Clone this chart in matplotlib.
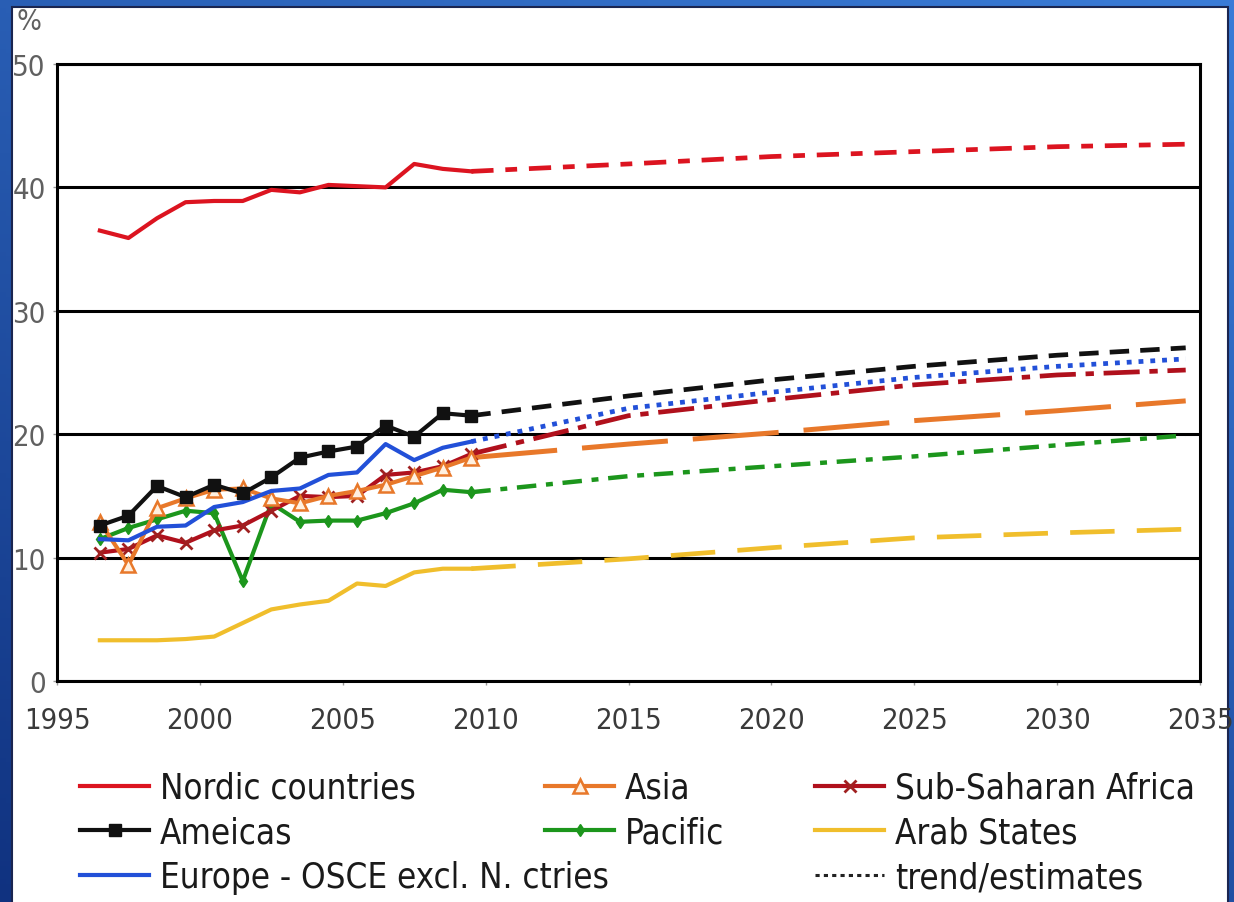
import numpy as np
import matplotlib
matplotlib.use('Agg')
import matplotlib.pyplot as plt
from matplotlib import font_manager
from matplotlib.font_manager import FontProperties
from matplotlib.lines import Line2D
from matplotlib.patches import Rectangle

# historic values, one per year (plotted at mid-year)
years = np.arange(1996, 2010)
nordic = [36.5, 35.9, 37.5, 38.8, 38.9, 38.9, 39.8, 39.6, 40.2, 40.1, 40.0, 41.9, 41.5, 41.3]
americas = [12.6, 13.4, 15.8, 14.9, 15.9, 15.2, 16.5, 18.1, 18.6, 19.0, 20.7, 19.8, 21.7, 21.5]
europe = [11.5, 11.4, 12.5, 12.6, 14.1, 14.5, 15.4, 15.6, 16.7, 16.9, 19.2, 17.9, 18.9, 19.4]
asia = [12.9, 9.4, 14.0, 14.8, 15.5, 15.6, 14.8, 14.4, 15.0, 15.4, 15.9, 16.6, 17.3, 18.1]
ssa = [10.4, 10.7, 11.8, 11.2, 12.2, 12.6, 13.8, 15.0, 14.9, 15.0, 16.7, 16.9, 17.4, 18.4]
pacific = [11.5, 12.4, 13.1, 13.8, 13.6, 8.1, 14.4, 12.9, 13.0, 13.0, 13.6, 14.4, 15.5, 15.3]
arab = [3.3, 3.3, 3.3, 3.4, 3.6, 4.7, 5.8, 6.2, 6.5, 7.9, 7.7, 8.8, 9.1, 9.1]

# trend / estimates
trend_years = [2009.5, 2015, 2020, 2025, 2030, 2034.5]
nordic_tr = [41.3, 41.9, 42.5, 42.9, 43.3, 43.5]
americas_tr = [21.5, 23.1, 24.4, 25.5, 26.4, 27.0]
europe_tr = [19.4, 22.1, 23.4, 24.6, 25.5, 26.1]
ssa_tr = [18.4, 21.5, 22.8, 24.0, 24.8, 25.2]
asia_tr = [18.1, 19.2, 20.1, 21.1, 21.9, 22.7]
pacific_tr = [15.3, 16.6, 17.4, 18.2, 19.1, 19.9]
arab_tr = [9.1, 9.9, 10.8, 11.6, 12.0, 12.3]

labels = ['Nordic countries', 'Ameicas', 'Europe - OSCE excl. N. ctries',
          'Asia', 'Pacific', 'Sub-Saharan Africa', 'Arab States', 'trend/estimates']
xticks = list(range(1995, 2036, 5))
yticks = list(range(0, 51, 10))


def pick_font():
    # prefer a narrow face like the original; fall back to Liberation Sans
    for fam, stretch in [('Liberation Sans Narrow', 'normal'),
                         ('Liberation Sans', 'condensed'),
                         ('DejaVu Sans', 'condensed')]:
        try:
            p = font_manager.findfont(FontProperties(family=fam, stretch=stretch),
                                      fallback_to_default=False)
        except Exception:
            continue
        if 'narrow' in p.lower() or 'condensed' in p.lower():
            return fam, stretch, True
    return 'Liberation Sans', 'normal', False


FONT, STRETCH, NARROW = pick_font()
if NARROW:
    fs_tick, fs_leg = 21, 25
else:
    fs_tick, fs_leg = 19, 24
em = fs_leg * 100 / 72
lab_sp = 45 / em - 0.99

plt.rcParams['font.family'] = [FONT, 'DejaVu Sans']
plt.rcParams['font.stretch'] = STRETCH
plt.rcParams['lines.scale_dashes'] = False

W, H = 1234, 903
fig = plt.figure(figsize=(W / 100, H / 100), dpi=100)

# blue slide background with white panel
bg = fig.add_axes([0, 0, 1, 1])
bg.axis('off')
gy, gx = np.mgrid[0:1:200j, 0:1:200j]
t = 0.6 * gy + 0.4 * gx
c0 = np.array([0x10, 0x32, 0x80]) / 255
c1 = np.array([0x3a, 0x7c, 0xd8]) / 255
grad = c0 + (c1 - c0) * t[..., None]
bg.imshow(grad, aspect='auto', extent=[0, 1, 0, 1], origin='lower')
bg.add_patch(Rectangle((12 / W, -0.01), (1228 - 12) / W, 1.01 - 8 / H,
                       facecolor='white', edgecolor='#1a2550', lw=1.5))
bg.set_xlim(0, 1)
bg.set_ylim(0, 1)

ax = fig.add_axes([57 / W, (H - 682) / H, (1200 - 57) / W, (682 - 65) / H])
ax.set_facecolor('none')

x = years + 0.5
lw = 3.0
c_nordic, c_amer, c_eur = '#dc1420', '#111111', '#2250d8'
c_asia, c_ssa, c_pac, c_arab = '#e8782a', '#b0101c', '#1c961c', '#f0be2c'

ax.plot(trend_years, arab_tr, color=c_arab, lw=3.4, ls=(0, (32, 16)))
ax.plot(trend_years, pacific_tr, color=c_pac, lw=3.2, ls=(0, (14, 7, 5, 7)))
ax.plot(trend_years, asia_tr, color=c_asia, lw=3.6, ls=(0, (62, 18)))
ax.plot(trend_years, ssa_tr, color=c_ssa, lw=3.4, ls=(0, (26, 7, 6, 7)))
ax.plot(trend_years, europe_tr, color=c_eur, lw=3.4, ls=(0, (3.5, 5)))
ax.plot(trend_years, americas_tr, color=c_amer, lw=3.4, ls=(0, (14, 8)))
ax.plot(trend_years, nordic_tr, color=c_nordic, lw=3.4, ls=(0, (16, 8.5, 8.5, 8.5)))

h_arab, = ax.plot(x, arab, color=c_arab, lw=lw)
h_pac, = ax.plot(x, pacific, color=c_pac, lw=lw, marker='d', ms=6, mec=c_pac)
h_ssa, = ax.plot(x, ssa, color=c_ssa, lw=lw, marker='x', ms=8, mew=2, mec='#a02020')
h_asia, = ax.plot(x, asia, color=c_asia, lw=lw, marker='^', ms=10, mfc='#fff0e0',
                  mec=c_asia, mew=1.8)
h_eur, = ax.plot(x, europe, color=c_eur, lw=lw)
h_amer, = ax.plot(x, americas, color=c_amer, lw=lw, marker='s', ms=9)
h_nordic, = ax.plot(x, nordic, color=c_nordic, lw=lw)
h_trend = Line2D([], [], color='#222222', lw=2.2, ls=(0, (3, 3)))

ax.set_xlim(1995, 2035)
ax.set_ylim(0, 50)
ax.set_xticks(xticks)
ax.set_yticks(yticks)
ax.yaxis.grid(True, color='black', lw=2.2)
ax.set_axisbelow(True)
for s in ax.spines.values():
    s.set_linewidth(2.2)
    s.set_color('black')
ax.tick_params(axis='x', length=3, width=1, color='#999999', pad=15,
               labelsize=fs_tick, labelcolor='#3a3a3a')
ax.tick_params(axis='y', length=3, width=1, color='#999999', pad=5,
               labelsize=fs_tick, labelcolor='#606060')
fig.text(17 / W, 1 - 22 / H, '%', fontsize=fs_tick, color='#606060',
         va='center', ha='left')

leg_kw = dict(loc='upper left', frameon=False, fontsize=fs_leg, borderpad=0,
              borderaxespad=0, handlelength=2.0, handletextpad=0.3,
              labelspacing=lab_sp, labelcolor='#1a1a1a')
top = 1 - 772 / H
fig.legend([h_nordic, h_amer, h_eur], labels[0:3],
           bbox_to_anchor=(80 / W, top), **leg_kw)
fig.legend([h_asia, h_pac], labels[3:5],
           bbox_to_anchor=(545 / W, top), **leg_kw)
fig.legend([h_ssa, h_arab, h_trend], labels[5:8],
           bbox_to_anchor=(815 / W, top), **leg_kw)

fig.savefig('out.png', dpi=100)
